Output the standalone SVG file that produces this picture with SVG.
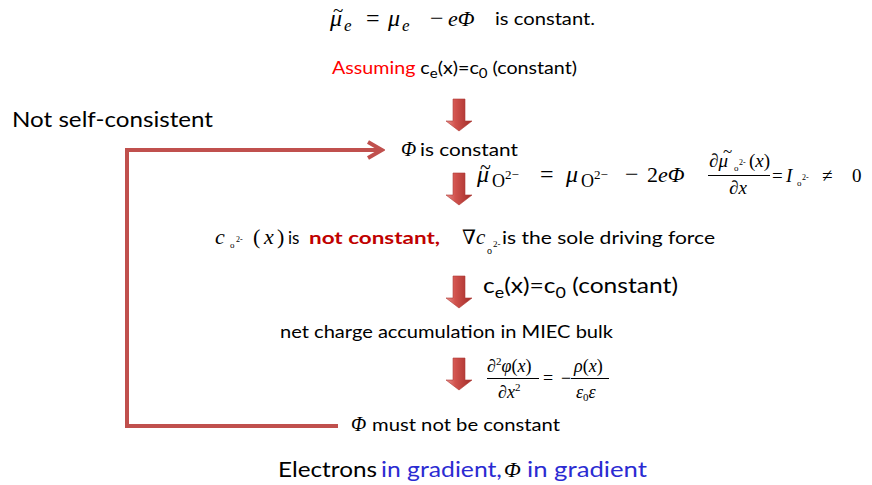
<svg xmlns="http://www.w3.org/2000/svg" width="872" height="485" viewBox="0 0 872 485">
<defs>
<style>
.t{font-family:Lato,"Open Sans","Liberation Sans",sans-serif;font-size:17px;fill:#000}
.big{font-size:22px}
.m{font-family:"Liberation Serif","DejaVu Serif",serif;font-style:italic;fill:#000}
.r{font-family:"Liberation Serif","DejaVu Serif",serif;fill:#000}
.n{font-style:normal}
.red{fill:#ff0000}
.dred{fill:#c00000;font-weight:bold}
.blue{fill:#2b2bd2}
.loop{fill:none;stroke:#c0504d;stroke-width:4}
.bar{stroke:#000;stroke-width:1}
</style>
<linearGradient id="ag" x1="0" y1="0" x2="1" y2="0">
<stop offset="0" stop-color="#e8908c"/>
<stop offset="0.35" stop-color="#d2534e"/>
<stop offset="1" stop-color="#a02c28"/>
</linearGradient>
<path id="barrow" d="M-6,0 H6 V22 H13 L0,32 L-13,22 H-6 Z" fill="url(#ag)" stroke="#b03a36" stroke-width="0.6"/>
<marker id="chev" markerUnits="userSpaceOnUse" markerWidth="20" markerHeight="22" refX="17" refY="10" orient="auto">
<path d="M3,2 L17,10 L3,18" fill="none" stroke="#c0504d" stroke-width="4"/>
</marker>
</defs>
<rect width="872" height="485" fill="#fff"/>

<g id="connectors">
<polyline class="loop" points="338,426 127,426 127,150 382,150" marker-end="url(#chev)"/>
<use href="#barrow" x="459" y="99"/>
<use href="#barrow" x="459" y="173"/>
<use href="#barrow" x="459" y="276"/>
<use href="#barrow" x="459" y="358"/>
</g>

<g id="n-top">
<text class="m" x="330" y="26" font-size="24">μ<tspan class="n" x="333" y="17" font-size="19">~</tspan><tspan x="344" y="31" font-size="17">e</tspan></text>
<text class="r" x="366" y="26" font-size="24">=</text>
<text class="m" x="388" y="26" font-size="24">μ</text>
<text class="m" x="402" y="31" font-size="17">e</text>
<text class="r" x="430" y="26" font-size="24">−</text>
<text class="m" x="448" y="26" font-size="22">eΦ</text>
<text class="t" x="495" y="25" textLength="100" lengthAdjust="spacingAndGlyphs">is constant.</text>
</g>

<g id="n-assume">
<text class="t" x="332" y="74" font-size="18.5" textLength="245" lengthAdjust="spacingAndGlyphs"><tspan class="red">Assuming</tspan> c<tspan font-size="13" dy="4">e</tspan><tspan dy="-4">(x)=c</tspan><tspan font-size="13" dy="4">0</tspan><tspan dy="-4"> (constant)</tspan></text>
</g>

<g id="n-notself">
<text class="t big" x="12" y="127" textLength="201" lengthAdjust="spacingAndGlyphs">Not self-consistent</text>
</g>

<g id="n-phiconst">
<text class="m" x="401" y="156" font-size="20">Φ</text>
<text class="t" x="420" y="156" textLength="98" lengthAdjust="spacingAndGlyphs">is constant</text>
</g>

<g id="n-muO">
<text class="m" x="477" y="182" font-size="24">μ<tspan class="n" x="480" y="174" font-size="20">~</tspan></text>
<text class="r" x="492" y="187" font-size="18">O</text>
<text class="r" x="505" y="179" font-size="13">2−</text>
<text class="r" x="540" y="182" font-size="24">=</text>
<text class="m" x="566" y="182" font-size="24">μ</text>
<text class="r" x="581" y="187" font-size="18">O</text>
<text class="r" x="594" y="179" font-size="13">2−</text>
<text class="r" x="625" y="182" font-size="24">−</text>
<text class="r" x="647" y="182" font-size="22">2<tspan font-style="italic">eΦ</tspan></text>
</g>

<g id="n-gradmu">
<text class="r" x="709" y="167" font-size="19">∂<tspan font-style="italic">μ</tspan><tspan x="723" y="157" font-size="17">~</tspan></text>
<text class="r" x="734" y="171" font-size="9">o</text>
<text class="r" x="739" y="165" font-size="8">2-</text>
<text class="r" x="749" y="167" font-size="19">(<tspan font-style="italic">x</tspan>)</text>
<line class="bar" x1="708" y1="175.5" x2="770" y2="175.5"/>
<text class="r" x="729" y="194" font-size="19">∂<tspan font-style="italic">x</tspan></text>
<text class="r" x="772" y="182" font-size="19">=</text>
<text class="m" x="786" y="182" font-size="19">I</text>
<text class="r" x="797" y="186" font-size="9">o</text>
<text class="r" x="802" y="180" font-size="8">2-</text>
<text class="r" x="822" y="182" font-size="19">≠</text>
<text class="r" x="852" y="182" font-size="19">0</text>
</g>

<g id="n-co2">
<text class="m" x="215" y="244" font-size="22">c</text>
<text class="r" x="230" y="248" font-size="9">o</text>
<text class="r" x="236" y="242" font-size="8">2-</text>
<text class="r" x="253" y="244" font-size="22">(</text>
<text class="m" x="264" y="244" font-size="22">x</text>
<text class="r" x="277" y="244" font-size="22">)</text>
<text class="t" x="288" y="244">is</text>
<text class="t dred" x="309" y="244" textLength="131" lengthAdjust="spacingAndGlyphs">not constant,</text>
<text class="r" x="462" y="244" font-size="20">∇</text>
<text class="m" x="476" y="244" font-size="21">c</text>
<text class="r" x="487" y="254" font-size="10">o</text>
<text class="r" x="493" y="247" font-size="9">2-</text>
<text class="t" x="502" y="244" textLength="213" lengthAdjust="spacingAndGlyphs">is the sole driving force</text>
</g>

<g id="n-ce">
<text class="t big" x="483" y="293" font-size="23" textLength="195" lengthAdjust="spacingAndGlyphs">c<tspan font-size="16" dy="5">e</tspan><tspan dy="-5">(x)=c</tspan><tspan font-size="16" dy="5">0</tspan><tspan dy="-5"> (constant)</tspan></text>
</g>

<g id="n-net">
<text class="t" x="280" y="338" textLength="333" lengthAdjust="spacingAndGlyphs">net charge accumulation in MIEC bulk</text>
</g>

<g id="n-poisson">
<text class="r" x="487" y="372" font-size="18">∂<tspan font-size="11" dy="-7">2</tspan><tspan font-style="italic" dy="7">φ</tspan>(<tspan font-style="italic">x</tspan>)</text>
<line class="bar" x1="487" y1="378.5" x2="539" y2="378.5"/>
<text class="r" x="498" y="398" font-size="18">∂<tspan font-style="italic">x</tspan><tspan font-size="11" dy="-7">2</tspan></text>
<text class="r" x="543" y="384" font-size="18">=</text>
<text class="r" x="561" y="384" font-size="18">−</text>
<text class="r" x="574" y="372" font-size="18"><tspan font-style="italic">ρ</tspan>(<tspan font-style="italic">x</tspan>)</text>
<line class="bar" x1="571" y1="378.5" x2="609" y2="378.5"/>
<text class="m" x="576" y="398" font-size="18">ε<tspan font-size="11" dy="3" font-style="normal">0</tspan><tspan dy="-3">ε</tspan></text>
</g>

<g id="n-must">
<text class="m" x="351" y="431" font-size="20">Φ</text>
<text class="t" x="372" y="431" textLength="188" lengthAdjust="spacingAndGlyphs">must not be constant</text>
</g>

<g id="n-bottom">
<text class="t big" x="278" y="477" textLength="99" lengthAdjust="spacingAndGlyphs">Electrons</text>
<text class="t big blue" x="381" y="477" textLength="121" lengthAdjust="spacingAndGlyphs">in gradient,</text>
<text class="m" x="504" y="477" font-size="22">Φ</text>
<text class="t big blue" x="527" y="477" textLength="120" lengthAdjust="spacingAndGlyphs">in gradient</text>
</g>
</svg>
